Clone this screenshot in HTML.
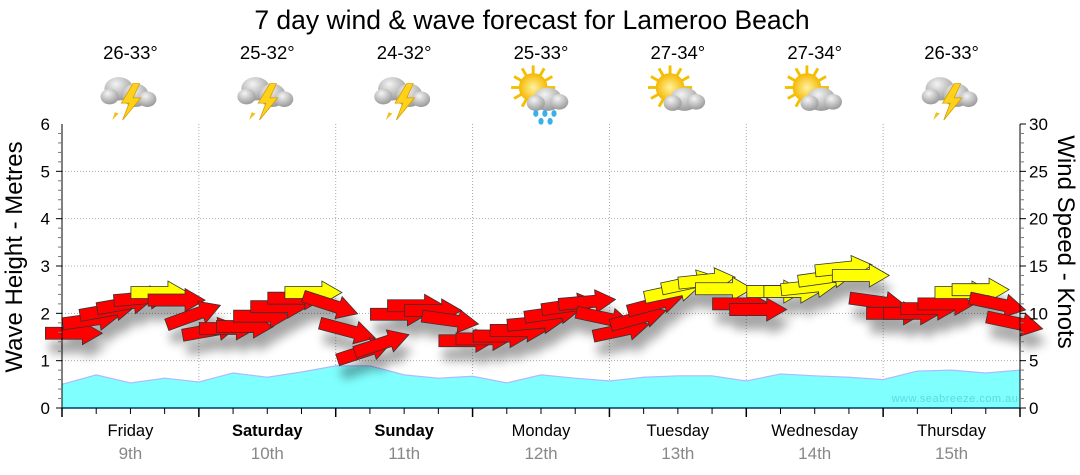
<!DOCTYPE html>
<html><head><meta charset="utf-8"><style>
html,body{margin:0;padding:0;background:#fff;}
svg{display:block;font-family:"Liberation Sans",sans-serif;}
</style></head><body>
<svg id="chart" width="1080" height="475" viewBox="0 0 1080 475">
<defs>
<filter id="sh" x="-30%" y="-50%" width="160%" height="250%"><feGaussianBlur stdDeviation="5"/></filter>
<radialGradient id="cg" cx="40%" cy="30%" r="70%"><stop offset="0" stop-color="#f4f4f4"/><stop offset="1" stop-color="#9a9a9a"/></radialGradient>
<radialGradient id="sg" cx="50%" cy="50%" r="50%"><stop offset="0" stop-color="#fff2a0"/><stop offset="1" stop-color="#f5b800"/></radialGradient>
</defs>
<text x="532" y="29" text-anchor="middle" font-size="26.5" fill="#000">7 day wind &amp; wave forecast for Lameroo Beach</text>
<g id="grid"></g>
<g id="wave"></g>
<g id="shadows" filter="url(#sh)" opacity="0.35"></g>
<g id="arrows"></g>
<g id="axes"></g>
<g id="icons"></g>
<text x="955" y="402" text-anchor="middle" font-size="11" fill="#5fd9e0" letter-spacing="0.5">www.seabreeze.com.au</text>
<text transform="translate(22,257) rotate(-90)" text-anchor="middle" font-size="24" fill="#000">Wave Height - Metres</text>
<text transform="translate(1058,242) rotate(90)" text-anchor="middle" font-size="24" fill="#000">Wind Speed - Knots</text>
</svg>
<script>
const days = ["Friday","Saturday","Sunday","Monday","Tuesday","Wednesday","Thursday"];
const dates = ["9th","10th","11th","12th","13th","14th","15th"];
const boldDays = [false,true,true,false,false,false,false];
const temps = ["26-33°","25-32°","24-32°","25-33°","27-34°","27-34°","26-33°"];
const iconTypes = ["storm","storm","storm","rain","sun","sun","storm"];
const waveHeights = [0.5,0.7,0.53,0.63,0.55,0.74,0.65,0.76,0.89,0.89,0.7,0.63,0.67,0.53,0.7,0.63,0.57,0.65,0.68,0.68,0.57,0.72,0.68,0.65,0.6,0.78,0.8,0.74,0.8];
const windSpeeds = [
7.9,9.3,10.3,11.0,11.6,12.2,11.4,9.8,
8.2,8.4,8.6,9.7,10.7,11.6,12.2,10.9,
8.2,6.0,6.8,9.9,10.8,10.3,9.3,7.1,
7.3,7.6,8.2,9.0,10.0,10.8,11.2,9.5,
8.2,9.5,11.0,12.3,13.2,13.5,12.6,11.0,
10.4,12.3,12.3,12.8,13.8,14.8,14.0,11.2,
10.0,10.0,10.5,11.0,12.2,12.5,11.0,9.0];
const windDirs = [
0,-8,-10,-10,-5,0,0,-20,
-10,0,0,0,0,0,0,18,
15,-18,-18,0,0,0,8,0,
0,0,0,-5,-8,-8,-5,12,
-12,-15,-15,-12,-12,-6,0,0,
0,0,0,-6,-8,-6,0,8,
0,0,0,0,0,0,12,12];
const leftTicks = [0,1,2,3,4,5,6];
const rightTicks = [0,5,10,15,20,25,30];

const X0=62,X1=1020,Y0=408,Y1=124,DW=(X1-X0)/7;
const NS="http://www.w3.org/2000/svg";
function xH(h){return X0+h/24*DW;}
function yM(m){return Y0-m/6*(Y0-Y1);}
function yK(k){return Y0-k/30*(Y0-Y1);}
function mk(tag,attrs,parent){const e=document.createElementNS(NS,tag);for(const k in attrs)e.setAttribute(k,attrs[k]);parent.appendChild(e);return e;}
const grid=document.getElementById('grid'),axes=document.getElementById('axes'),wave=document.getElementById('wave'),arrows=document.getElementById('arrows'),shadows=document.getElementById('shadows'),icons=document.getElementById('icons');

for(let m=1;m<=5;m++){const l=mk('line',{x1:X0,x2:X1,y1:yM(m),y2:yM(m),stroke:'#aaa','stroke-dasharray':'1,2'},grid);

}
for(let d=1;d<=6;d++){const l=mk('line',{x1:X0+d*DW,x2:X0+d*DW,y1:Y1,y2:Y0,stroke:'#aaa','stroke-dasharray':'1,2'},grid);

}

let pts=waveHeights.map((v,i)=>[xH(i*6),yM(v)]);
let d='M'+X0+','+Y0+' '+pts.map(p=>'L'+p[0].toFixed(1)+','+p[1].toFixed(1)).join(' ')+' L'+X1+','+Y0+' Z';
const wa=mk('path',{d:d,fill:'#80ffff'},wave);


const wl=mk('polyline',{points:pts.map(p=>p.join(',')).join(' '),fill:'none',stroke:'#b0b8ff','stroke-width':1.2},wave);



const AP='M-28,-6 L9,-6 L9,-11.5 L29,0 L9,11.5 L9,6 L-28,6 Z';
windSpeeds.forEach((k,i)=>{
  const cx=xH(2+i*3),cy=yK(k);
  const s=mk('path',{d:AP,fill:'#000',transform:`translate(${cx+4},${cy+14}) rotate(${windDirs[i]})`},shadows);
  
  
  const a=mk('path',{d:AP,fill:k>=12?'#ffff00':'#ff0000',stroke:'#333','stroke-width':0.8,transform:`translate(${cx},${cy}) rotate(${windDirs[i]})`},arrows);
  
  
});

let ax=mk('line',{x1:X0,x2:X0,y1:Y1,y2:Y0,stroke:'#000'},axes);


ax=mk('line',{x1:X1,x2:X1,y1:Y1,y2:Y0,stroke:'#000'},axes);


ax=mk('line',{x1:X0,x2:X1,y1:Y0,y2:Y0,stroke:'#003a6a','stroke-width':1.5},axes);


for(let m=0;m<=6;m+=0.2){const y=yM(m);const maj=Math.abs(m-Math.round(m))<0.01;mk('line',{x1:X0-(maj?6:4),x2:X0,y1:y,y2:y,stroke:maj?'#000':'#777'},axes);}
leftTicks.forEach(m=>{const t=mk('text',{x:X0-12,y:yM(m)+6,'text-anchor':'end','font-size':17},axes);t.textContent=m;

});
for(let k=0;k<=30;k++){const y=yK(k);const maj=k%5==0;mk('line',{x1:X1,x2:X1+(maj?6:4),y1:y,y2:y,stroke:maj?'#000':'#777'},axes);}
rightTicks.forEach(k=>{const t=mk('text',{x:X1+9,y:yK(k)+6,'font-size':17},axes);t.textContent=k;

});
for(let h=0;h<=168;h+=6){const x=xH(h);const maj=h%24==0;mk('line',{x1:x,x2:x,y1:Y0,y2:Y0+(maj?9:6),stroke:'#000','stroke-width':maj?1.5:1},axes);}
days.forEach((n,i)=>{const cx=X0+(i+0.5)*DW;
 const t=mk('text',{x:cx,y:436,'text-anchor':'middle','font-size':16.5,'font-weight':boldDays[i]?'bold':'normal'},axes);t.textContent=n;
 
 
 const t2=mk('text',{x:cx,y:459,'text-anchor':'middle','font-size':17,fill:'#888'},axes);t2.textContent=dates[i];
 
 
 const t3=mk('text',{x:cx,y:59,'text-anchor':'middle','font-size':18.5},icons);t3.textContent=temps[i];
 
 
 const g=mk('g',{transform:`translate(${cx},94) scale(1.3)`},icons);
 
 
 const ty=iconTypes[i];
 if(ty==='storm'){
  mk('path',{d:'M-12,14 L-14,20 L-9,15 Z',fill:'#f0c020'},g);
  mk('ellipse',{cx:-9,cy:-4,rx:11,ry:9,fill:'url(#cg)'},g);
  mk('ellipse',{cx:-16,cy:2,rx:7,ry:6,fill:'url(#cg)'},g);
  mk('ellipse',{cx:4,cy:1,rx:10,ry:9,fill:'url(#cg)'},g);
  mk('ellipse',{cx:13,cy:4,rx:7,ry:6,fill:'url(#cg)'},g);
  mk('path',{d:'M2,-8 L-7,7 L-1,7 L-6,20 L8,3 L2,3 L7,-8 Z',fill:'#ffd21a',stroke:'#d99a00','stroke-width':0.6},g);
 } else {
  for(let r=0;r<12;r++){const a=r*Math.PI/6;mk('line',{x1:-6+Math.cos(a)*9,y1:-5+Math.sin(a)*9,x2:-6+Math.cos(a)*17,y2:-5+Math.sin(a)*17,stroke:'#f3c000','stroke-width':2.2},g);}
  mk('circle',{cx:-6,cy:-5,r:11,fill:'url(#sg)'},g);
  mk('ellipse',{cx:5,cy:4,rx:11,ry:9,fill:'url(#cg)'},g);
  mk('ellipse',{cx:14,cy:6,rx:7,ry:6,fill:'url(#cg)'},g);
  mk('ellipse',{cx:-4,cy:7,rx:7,ry:6,fill:'url(#cg)'},g);
  if(ty==='rain'){[[-4,15],[3,15],[10,15],[0,21],[7,21]].forEach(p=>mk('ellipse',{cx:p[0],cy:p[1],rx:2,ry:2.6,fill:'#3ab0e8'},g));}
 }
});
</script>
</body></html>
